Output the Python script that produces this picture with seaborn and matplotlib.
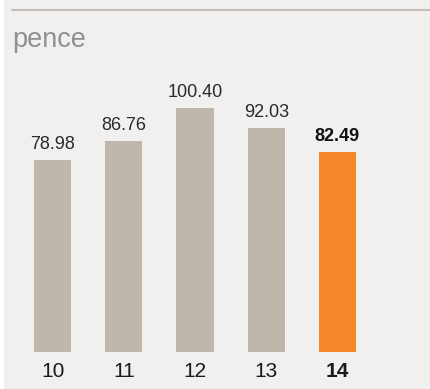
import matplotlib
matplotlib.use("Agg")
import matplotlib.pyplot as plt
from matplotlib.lines import Line2D
from matplotlib.patches import Rectangle
import seaborn as sns
import pandas as pd

years = ["10", "11", "12", "13", "14"]
values = [78.98, 86.76, 100.40, 92.03, 82.49]
value_labels = ["78.98", "86.76", "100.40", "92.03", "82.49"]
unit_label = "pence"

bg = "#f1f0ee"
bar_grey = "#bfb6ac"
bar_orange = "#f58829"
colors = [bar_grey] * 4 + [bar_orange]

sns.set_theme(style="white")
plt.rcParams["font.family"] = ["Liberation Sans", "DejaVu Sans"]

W, H = 431, 389
fig = plt.figure(figsize=(W / 100, H / 100), dpi=100, facecolor=bg)

# axes placement in pixels
px_per_unit = 2.43
ymax = 120
base_px = 352
ax_h = ymax * px_per_unit
left_px, right_px = 17, 373
ax = fig.add_axes([left_px / W, (H - base_px) / H, (right_px - left_px) / W, ax_h / H])
ax.set_facecolor(bg)

df = pd.DataFrame({"year": years, "value": values})
sns.barplot(data=df, x="year", y="value", hue="year", palette=colors,
            legend=False, width=0.52, saturation=1, linewidth=0,
            edgecolor="none", ax=ax)

ax.set_xlim(-0.5, 4.5)
ax.set_ylim(0, ymax)
ax.set_xlabel("")
ax.set_ylabel("")
ax.set_yticks([])
for s in ax.spines.values():
    s.set_visible(False)
ax.tick_params(axis="x", length=0, pad=7, labelsize=15, colors="#1a1a1a")
for i, t in enumerate(ax.get_xticklabels()):
    if i == len(years) - 1:
        t.set_fontweight("bold")

for i, (v, lab) in enumerate(zip(values, value_labels)):
    last = i == len(values) - 1
    ax.annotate(lab, (i, v), xytext=(0, 5), textcoords="offset points",
                ha="center", va="bottom", fontsize=13,
                fontweight="bold" if last else "normal",
                color="#111111" if last else "#2a2a2a")

# left white strip and header rule
fig.add_artist(Rectangle((0, 0), 4 / W, 1, transform=fig.transFigure,
                         facecolor="white", edgecolor="none"))
fig.add_artist(Line2D([12 / W, 1], [1 - 9.5 / H, 1 - 9.5 / H],
                      transform=fig.transFigure, color="#c6beb6", lw=1.5))

fig.text(12 / W, 1 - 47 / H, unit_label, fontsize=19.5, color="#909090",
         ha="left", va="baseline")

fig.savefig("out.png", dpi=100, facecolor=bg)
